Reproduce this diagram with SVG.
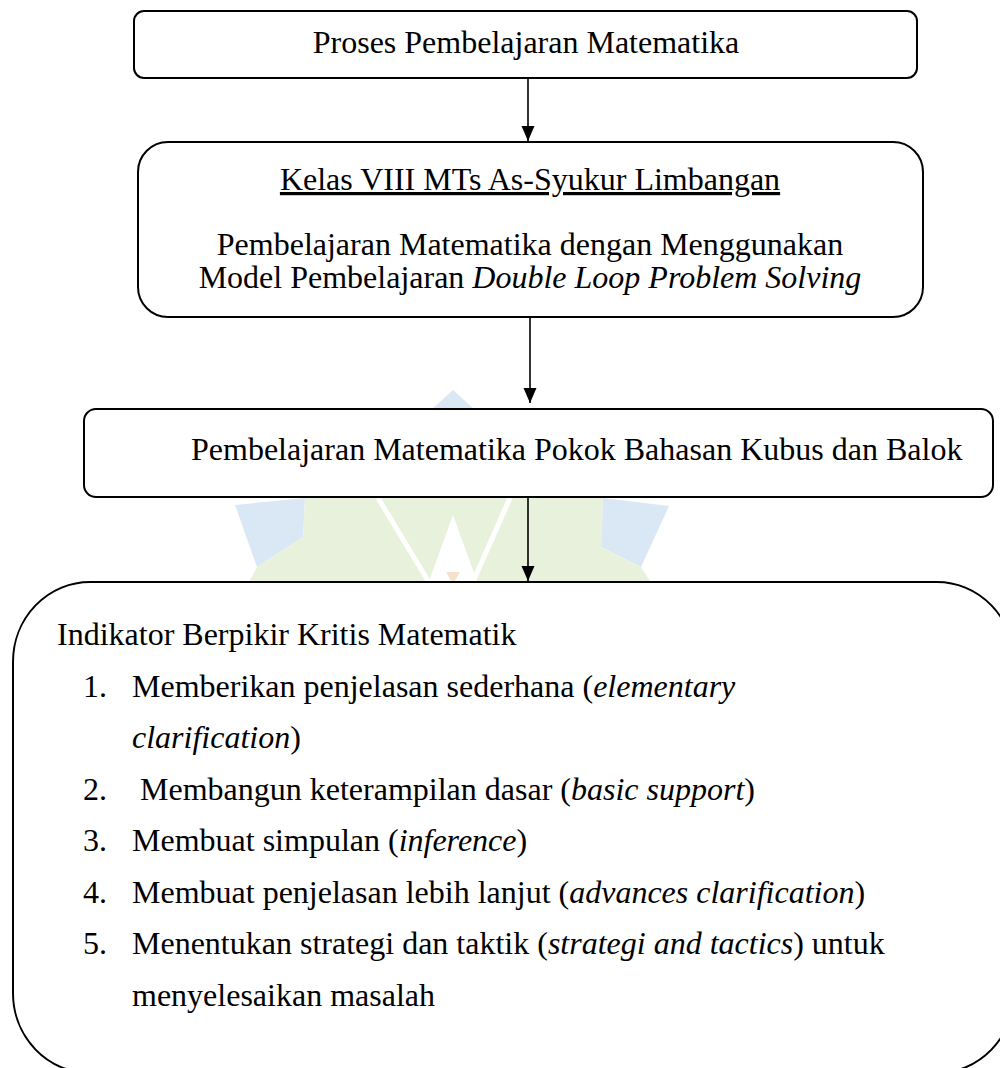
<svg xmlns="http://www.w3.org/2000/svg" width="1000" height="1068" viewBox="0 0 1000 1068">
<style>
.t{font-family:"Liberation Serif","Times New Roman",serif;font-size:32px;fill:#000}
.c{text-anchor:middle}
.i{font-style:italic}
.box{fill:#fff;stroke:#000;stroke-width:2}
.con{stroke:#000;stroke-width:1.6;fill:none}
</style>
<defs>
<marker id="arr" markerUnits="userSpaceOnUse" viewBox="0 -7 15 14" refX="15" refY="0" markerWidth="15" markerHeight="14" orient="auto">
<path d="M0,-6.5 L15,0 L0,6.5 Z" fill="#000"/>
</marker>
</defs>
<rect width="1000" height="1068" fill="#fff"/>
<g id="watermark" opacity="0.9">
<polygon points="453,390 398,440 508,440" fill="#d7e6f4"/>
<polygon points="235,505 305,498 303,537 257,567" fill="#d7e6f4"/>
<polygon points="603,498 669,506 641,567 601,547" fill="#d7e6f4"/>
<polygon points="305,498 603,498 601,547 641,567 652,584 248,584 257,567 303,537" fill="#e6f0d9"/>
<polygon points="453,515 428,584 478,584" fill="#fff"/>
<line x1="378" y1="498" x2="430" y2="584" stroke="#fff" stroke-width="5"/>
<line x1="510" y1="498" x2="472" y2="584" stroke="#fff" stroke-width="5"/>
<polygon points="446,572 460,572 453,584" fill="#f6dfc6"/>
</g>
<g id="connectors">
<line class="con" x1="528" y1="78" x2="528" y2="141" marker-end="url(#arr)"/>
<line class="con" x1="530" y1="317" x2="530" y2="403" marker-end="url(#arr)"/>
<line class="con" x1="528" y1="497" x2="528" y2="581" marker-end="url(#arr)"/>
</g>
<g id="node1">
<rect class="box" x="134" y="11" width="783" height="67" rx="10" ry="10"/>
<text class="t c" x="526" y="53">Proses Pembelajaran Matematika</text>
</g>
<g id="node2">
<rect class="box" x="138" y="142" width="785" height="175" rx="30" ry="30"/>
<text class="t c" x="530" y="190" text-decoration="underline">Kelas VIII MTs As-Syukur Limbangan</text>
<text class="t c" x="530" y="255">Pembelajaran Matematika dengan Menggunakan</text>
<text class="t c" x="530" y="288">Model Pembelajaran <tspan class="i">Double Loop Problem Solving</tspan></text>
</g>
<g id="node3">
<rect class="box" x="84" y="409" width="909" height="88" rx="12" ry="12"/>
<text class="t" x="191" y="460">Pembelajaran Matematika Pokok Bahasan Kubus dan Balok</text>
</g>
<g id="node4">
<rect class="box" x="13" y="582" width="1001" height="491" rx="77" ry="80"/>
<text class="t" x="57" y="645">Indikator Berpikir Kritis Matematik</text>
<text class="t" x="83" y="696.5">1.</text>
<text class="t" x="132" y="696.5">Memberikan penjelasan sederhana (<tspan class="i">elementary</tspan></text>
<text class="t" x="132" y="748"><tspan class="i">clarification</tspan>)</text>
<text class="t" x="83" y="799.5">2.</text>
<text class="t" x="140" y="799.5">Membangun keterampilan dasar (<tspan class="i">basic support</tspan>)</text>
<text class="t" x="83" y="851">3.</text>
<text class="t" x="132" y="851">Membuat simpulan (<tspan class="i">inference</tspan>)</text>
<text class="t" x="83" y="902.5">4.</text>
<text class="t" x="132" y="902.5">Membuat penjelasan lebih lanjut (<tspan class="i">advances clarification</tspan>)</text>
<text class="t" x="83" y="954">5.</text>
<text class="t" x="132" y="954">Menentukan strategi dan taktik (<tspan class="i">strategi and tactics</tspan>) untuk</text>
<text class="t" x="132" y="1005.5">menyelesaikan masalah</text>
</g>
</svg>
